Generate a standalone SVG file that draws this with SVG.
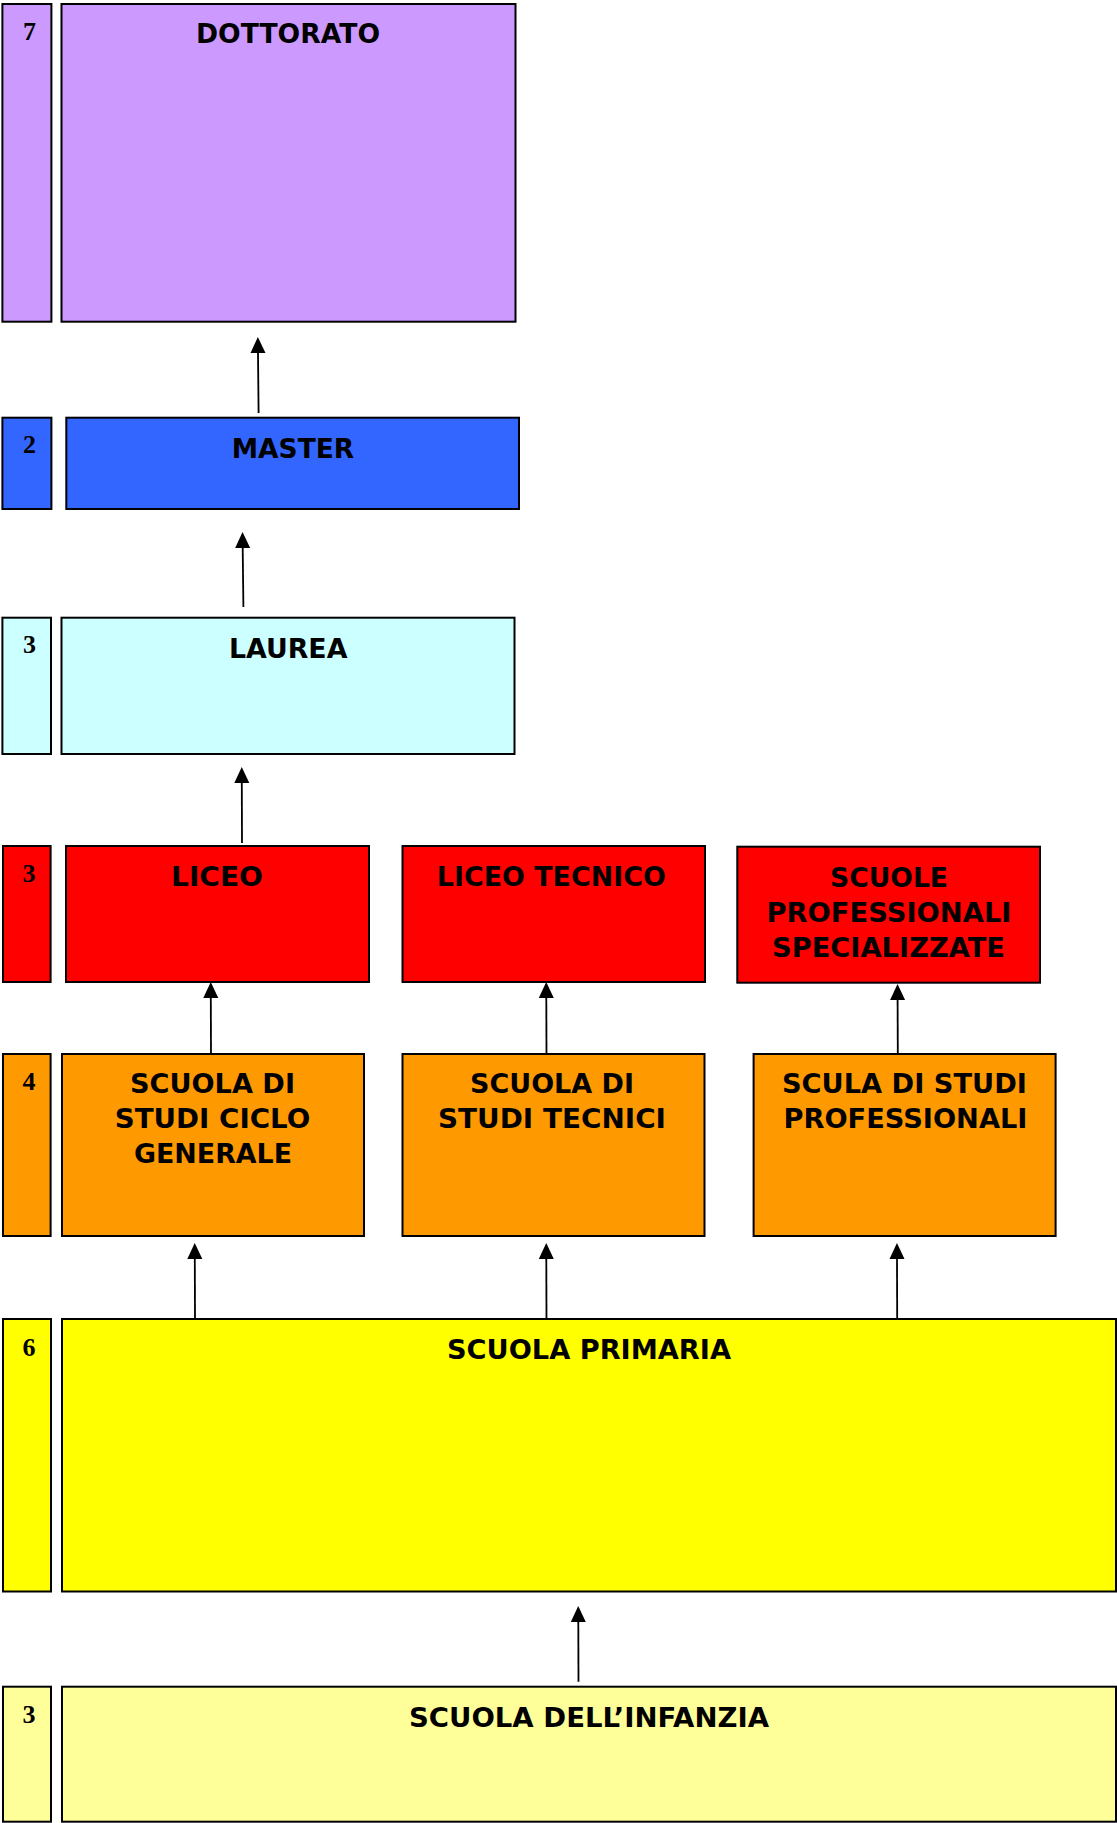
<svg xmlns="http://www.w3.org/2000/svg" width="1117" height="1823" viewBox="0 0 1117 1823">
<style>
.b{stroke:#000;stroke-width:2}
.t{font-family:"DejaVu Sans",Verdana,sans-serif;font-weight:bold;font-size:27px;text-anchor:middle;fill:#000}
.n{font-family:"Liberation Serif","Times New Roman",serif;font-weight:bold;font-size:26px;text-anchor:middle;fill:#000}
.c{stroke:#000;stroke-width:1.8;fill:none;marker-end:url(#ah)}
</style>
<defs>
<marker id="ah" markerUnits="userSpaceOnUse" markerWidth="16" markerHeight="16" refX="0" refY="7.5" orient="auto" overflow="visible">
<path d="M0,0 L16,7.5 L0,15 Z" fill="#000"/>
</marker>
</defs>
<rect width="1117" height="1823" fill="#fff"/>
<g id="dottorato">
<rect class="b" x="2.4" y="4" width="49" height="317.7" fill="#CC99FF"/>
<text class="n" x="29.5" y="40">7</text>
<rect class="b" x="61.5" y="4" width="454" height="317.7" fill="#CC99FF"/>
<text class="t" x="288" y="43" textLength="184" lengthAdjust="spacingAndGlyphs">DOTTORATO</text>
</g>
<g id="master">
<rect class="b" x="2.4" y="417.7" width="49" height="91.3" fill="#3366FF"/>
<text class="n" x="29.5" y="453">2</text>
<rect class="b" x="66.3" y="417.7" width="452.7" height="91.3" fill="#3366FF"/>
<text class="t" x="293" y="458" textLength="122.5" lengthAdjust="spacingAndGlyphs">MASTER</text>
</g>
<g id="laurea">
<rect class="b" x="2.4" y="617.7" width="48.6" height="136.3" fill="#CCFFFF"/>
<text class="n" x="29.5" y="653">3</text>
<rect class="b" x="61.5" y="617.7" width="453" height="136.3" fill="#CCFFFF"/>
<text class="t" x="288.2" y="658" textLength="118.5" lengthAdjust="spacingAndGlyphs">LAUREA</text>
</g>
<g id="liceo">
<rect class="b" x="3" y="846" width="47.6" height="136" fill="#FF0000"/>
<text class="n" x="29" y="882">3</text>
<rect class="b" x="66" y="846" width="303" height="136" fill="#FF0000"/>
<text class="t" x="217" y="886" textLength="92" lengthAdjust="spacingAndGlyphs">LICEO</text>
</g>
<g id="liceo-tecnico">
<rect class="b" x="402.5" y="846" width="302.5" height="136" fill="#FF0000"/>
<text class="t" x="551.3" y="886" textLength="229" lengthAdjust="spacingAndGlyphs">LICEO TECNICO</text>
</g>
<g id="scuole-professionali">
<rect class="b" x="737.3" y="846.7" width="302.7" height="136" fill="#FF0000"/>
<text class="t" x="889" y="887" textLength="118" lengthAdjust="spacingAndGlyphs">SCUOLE</text>
<text class="t" x="889" y="922" textLength="245" lengthAdjust="spacingAndGlyphs">PROFESSIONALI</text>
<text class="t" x="888.5" y="957" textLength="233" lengthAdjust="spacingAndGlyphs">SPECIALIZZATE</text>
</g>
<g id="ciclo-generale">
<rect class="b" x="3" y="1054" width="47.6" height="182" fill="#FF9900"/>
<text class="n" x="29" y="1090">4</text>
<rect class="b" x="62" y="1054" width="302" height="182" fill="#FF9900"/>
<text class="t" x="212.5" y="1093" textLength="165" lengthAdjust="spacingAndGlyphs">SCUOLA DI</text>
<text class="t" x="212.5" y="1128" textLength="195.5" lengthAdjust="spacingAndGlyphs">STUDI CICLO</text>
<text class="t" x="213" y="1163" textLength="158" lengthAdjust="spacingAndGlyphs">GENERALE</text>
</g>
<g id="studi-tecnici">
<rect class="b" x="402.5" y="1054" width="302" height="182" fill="#FF9900"/>
<text class="t" x="552" y="1093" textLength="164" lengthAdjust="spacingAndGlyphs">SCUOLA DI</text>
<text class="t" x="552" y="1128" textLength="228" lengthAdjust="spacingAndGlyphs">STUDI TECNICI</text>
</g>
<g id="studi-professionali">
<rect class="b" x="753.6" y="1054" width="302" height="182" fill="#FF9900"/>
<text class="t" x="904.4" y="1093" textLength="245" lengthAdjust="spacingAndGlyphs">SCULA DI STUDI</text>
<text class="t" x="905.5" y="1128" textLength="244" lengthAdjust="spacingAndGlyphs">PROFESSIONALI</text>
</g>
<g id="primaria">
<rect class="b" x="3" y="1319" width="48" height="272.5" fill="#FFFF00"/>
<text class="n" x="29" y="1356">6</text>
<rect class="b" x="62" y="1319" width="1054" height="272.5" fill="#FFFF00"/>
<text class="t" x="589" y="1359" textLength="284" lengthAdjust="spacingAndGlyphs">SCUOLA PRIMARIA</text>
</g>
<g id="infanzia">
<rect class="b" x="3" y="1686.7" width="48" height="135" fill="#FFFF99"/>
<text class="n" x="29" y="1723">3</text>
<rect class="b" x="62" y="1686.7" width="1054" height="135" fill="#FFFF99"/>
<text class="t" x="589" y="1727" textLength="360" lengthAdjust="spacingAndGlyphs">SCUOLA DELL’INFANZIA</text>
</g>
<g id="connectors">
<path class="c" d="M258.6,413 L258,353"/>
<path class="c" d="M243.4,607 L242.7,548"/>
<path class="c" d="M242,843 L241.8,783"/>
<path class="c" d="M211,1054 L210.8,998"/>
<path class="c" d="M546.5,1054 L546.3,998"/>
<path class="c" d="M897.8,1054 L897.6,1000"/>
<path class="c" d="M195,1319 L194.8,1259"/>
<path class="c" d="M546.5,1319 L546.3,1259"/>
<path class="c" d="M897.2,1319 L897,1259"/>
<path class="c" d="M578.5,1681.7 L578.3,1622"/>
</g>
</svg>
